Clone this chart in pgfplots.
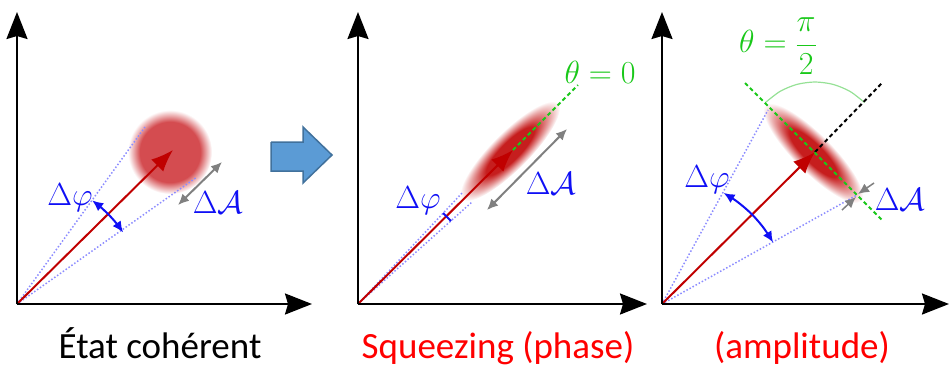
\RequirePackage{fix-cm}
\documentclass[border=0pt]{standalone}
\usepackage[no-math]{fontspec}
\setmainfont{Carlito}
\usepackage{pgfplots}
\pgfplotsset{compat=1.18}
\usetikzlibrary{arrows.meta}
\definecolor{darkred}{RGB}{192,0,0}
\definecolor{blobA}{RGB}{212,76,80}
\definecolor{blobB}{RGB}{198,30,30}
\definecolor{dotblue}{RGB}{140,140,255}
\definecolor{txtblue}{RGB}{15,15,245}
\definecolor{grn}{RGB}{25,200,25}
\definecolor{lightgrn}{RGB}{150,225,150}
\definecolor{blockblue}{RGB}{91,155,213}
\definecolor{blockedge}{RGB}{65,113,156}
\definecolor{arrgray}{RGB}{128,128,128}
\pgfdeclareradialshading{blobcircle}{\pgfpoint{0bp}{0bp}}{color(0bp)=(blobA); color(18bp)=(blobA); color(25bp)=(white); color(50bp)=(white)}
\pgfdeclareradialshading{blobell}{\pgfpoint{0bp}{0bp}}{color(0bp)=(blobB); color(12bp)=(blobB); color(25bp)=(white); color(50bp)=(white)}
\begin{document}
\begin{tikzpicture}
\begin{axis}[at={(0,0)}, anchor=south west, scale only axis, width=951pt, height=368pt,
  xmin=0, xmax=951, ymin=0, ymax=368, y dir=reverse, hide axis, clip=false]
% ---- blobs
\begin{scope}[transform canvas={shift={(axis cs:170,152)}}]
  \shade[shading=blobcircle] (0,0) circle (42pt);
\end{scope}
\begin{scope}[transform canvas={shift={(axis cs:510,151)}, rotate=45}]
  \shade[shading=blobell] (0,0) ellipse (68pt and 19pt);
\end{scope}
\begin{scope}[transform canvas={shift={(axis cs:813,153)}, rotate=-45}]
  \shade[shading=blobell] (0,0) ellipse (68pt and 19pt);
\end{scope}
% ---- panel 1
\addplot[dotblue, line width=1.5pt, dotted] coordinates {(17,304) (145,127)};
\addplot[dotblue, line width=1.5pt, dotted] coordinates {(17,304) (197,177)};
\addplot[darkred, line width=2pt, -{Latex[length=22pt,width=17pt]}] coordinates {(17,304) (173,150)};
\addplot[txtblue, line width=2pt, smooth, {Latex[length=11pt,width=10pt]}-{Latex[length=11pt,width=10pt]}] coordinates {(92.2,200.4) (101,207.4) (109.1,215.1) (116.5,223.4) (123.1,232.4)};
\addplot[arrgray, line width=2pt, {Latex[length=11pt,width=10pt]}-{Latex[length=11pt,width=10pt]}] coordinates {(178,205) (222,162)};
\addplot[black, line width=2.2pt, -{Stealth[length=27pt,width=21pt,inset=3pt]}] coordinates {(17,304) (17,12)};
\addplot[black, line width=2.2pt, -{Stealth[length=27pt,width=21pt,inset=3pt]}] coordinates {(17,304) (312,304)};
\node[text=txtblue, font=\fontsize{32}{36}\selectfont] at (axis cs:70,198) {$\Delta\varphi$};
\node[text=txtblue, font=\fontsize{32}{36}\selectfont] at (axis cs:218,203) {$\Delta\mathcal{A}$};
\node[anchor=base, font=\fontsize{37}{42}\selectfont] at (axis cs:160,358) {État cohérent};
% ---- block arrow
\addplot[fill=blockblue, draw=blockedge, line width=1.5pt, line join=miter] coordinates {(271,142) (303,142) (303,127) (332,155) (303,183) (303,171) (271,171) (271,142)};
% ---- panel 2
\addplot[dotblue, line width=1.5pt, dotted] coordinates {(358,304) (463,192)};
\addplot[dotblue, line width=1.5pt, dotted] coordinates {(358,304) (472,202)};
\addplot[grn, line width=2pt, dash pattern=on 4pt off 3pt] coordinates {(513,150) (578,85)};
\addplot[darkred, line width=2pt, -{Latex[length=22pt,width=17pt]}] coordinates {(358,304) (513,150)};
\addplot[txtblue, line width=1.8pt] coordinates {(443,213) (451,221)};
\addplot[arrgray, line width=2pt, {Latex[length=11pt,width=10pt]}-{Latex[length=11pt,width=10pt]}] coordinates {(487,210) (567,129)};
\addplot[black, line width=2.2pt, -{Stealth[length=27pt,width=21pt,inset=3pt]}] coordinates {(358,304) (358,12)};
\addplot[black, line width=2.2pt, -{Stealth[length=27pt,width=21pt,inset=3pt]}] coordinates {(358,304) (647,304)};
\node[text=txtblue, font=\fontsize{32}{36}\selectfont] at (axis cs:418,201) {$\Delta\varphi$};
\node[text=txtblue, font=\fontsize{32}{36}\selectfont] at (axis cs:551,184) {$\Delta\mathcal{A}$};
\node[text=grn, font=\fontsize{32}{36}\selectfont] at (axis cs:600,72) {$\theta=0$};
\node[anchor=base, text=red, font=\fontsize{37}{42}\selectfont] at (axis cs:498,358) {Squeezing (phase)};
% ---- panel 3
\addplot[dotblue, line width=1.5pt, dotted] coordinates {(662,304) (768,110)};
\addplot[dotblue, line width=1.5pt, dotted] coordinates {(662,304) (857,195)};
\addplot[lightgrn, line width=1.2pt, smooth] coordinates {(864.5,102.5) (850,91.4) (833.1,84.4) (815,82) (796.9,84.4) (780,91.4) (765.5,102.5)};
\addplot[black, line width=2pt, dash pattern=on 4pt off 3pt] coordinates {(815,152) (882,83)};
\addplot[grn, line width=2pt, dash pattern=on 4pt off 3pt] coordinates {(745,83) (882,220)};
\addplot[darkred, line width=2pt, -{Latex[length=22pt,width=17pt]}] coordinates {(662,304) (815,152)};
\addplot[txtblue, line width=2pt, smooth, {Latex[length=11pt,width=10pt]}-{Latex[length=11pt,width=10pt]}] coordinates {(723.6,192.9) (738.4,202.6) (751.8,214.2) (763.4,227.6) (773.1,242.4)};
\addplot[arrgray, line width=1.5pt, -{Latex[length=11pt,width=10pt]}] coordinates {(874,183) (858,194)};
\addplot[arrgray, line width=1.5pt, -{Latex[length=11pt,width=10pt]}] coordinates {(842,210) (856,197)};
\addplot[black, line width=2.2pt, -{Stealth[length=27pt,width=21pt,inset=3pt]}] coordinates {(662,304) (662,12)};
\addplot[black, line width=2.2pt, -{Stealth[length=27pt,width=21pt,inset=3pt]}] coordinates {(662,304) (949,304)};
\node[text=txtblue, font=\fontsize{32}{36}\selectfont] at (axis cs:707,180) {$\Delta\varphi$};
\node[text=txtblue, font=\fontsize{32}{36}\selectfont] at (axis cs:900,200) {$\Delta\mathcal{A}$};
\node[text=grn, font=\fontsize{32}{36}\selectfont] at (axis cs:778,46) {$\theta=\displaystyle\frac{\pi}{2}$};
\node[anchor=base, text=red, font=\fontsize{37}{42}\selectfont] at (axis cs:802,358) {(amplitude)};
\end{axis}
\pgfresetboundingbox
\useasboundingbox (0,0) rectangle (951pt,368pt);
\end{tikzpicture}
\end{document}
